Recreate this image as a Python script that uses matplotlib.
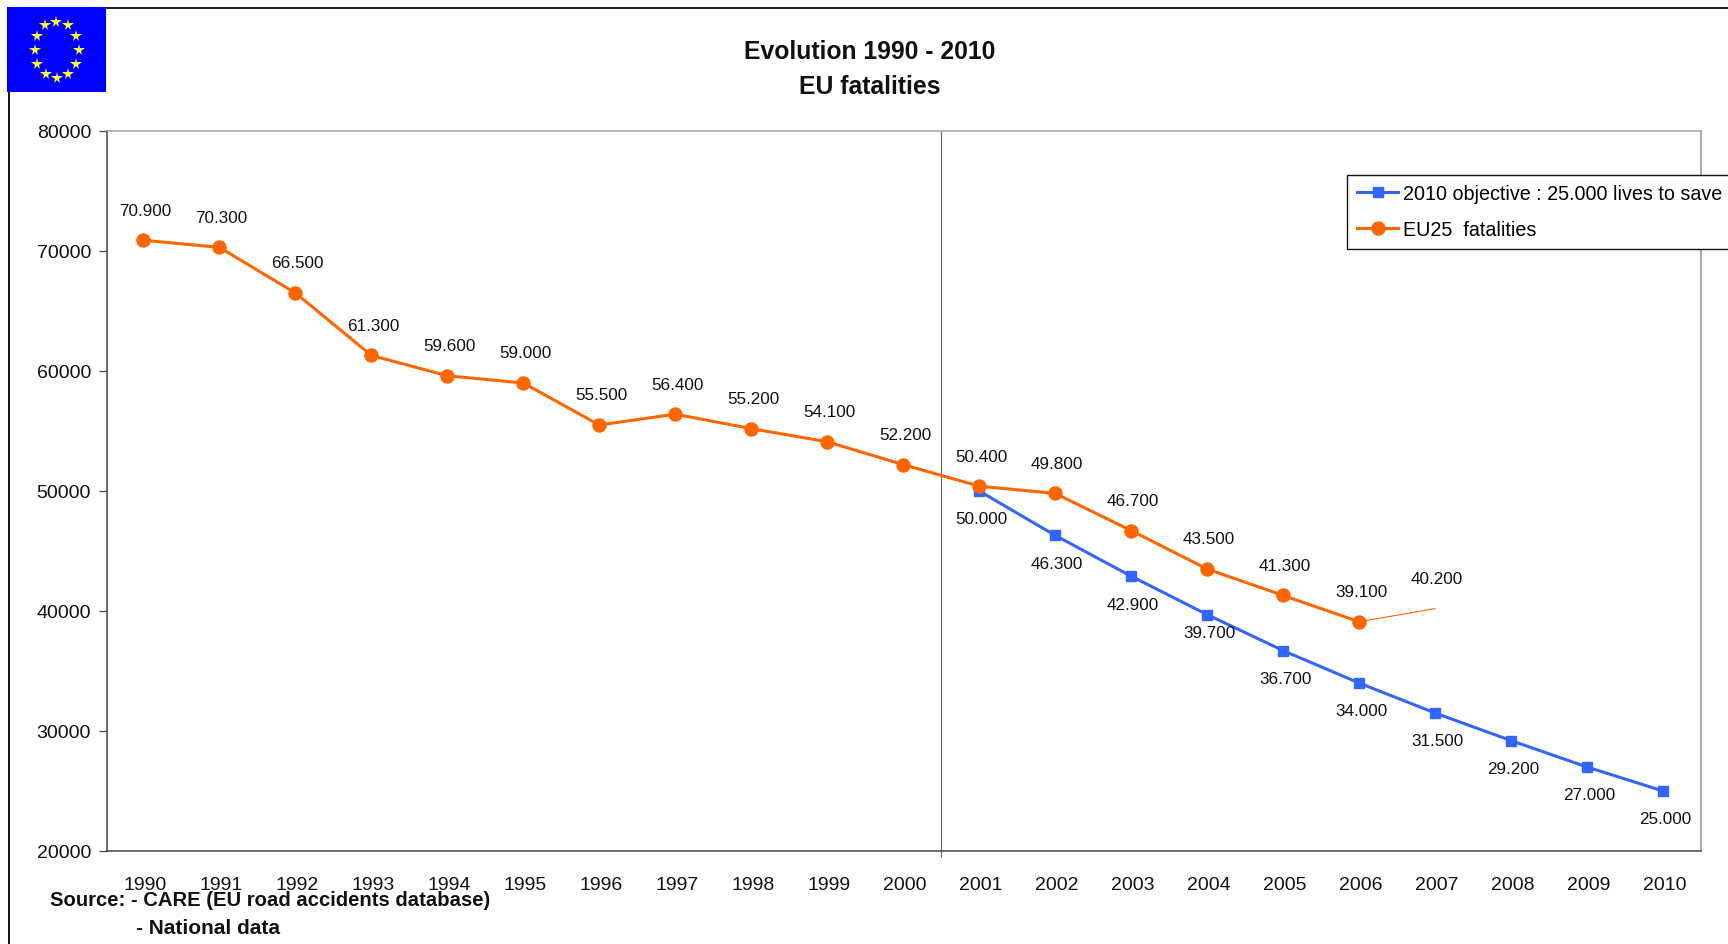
import numpy as np
import matplotlib
matplotlib.use('Agg')
import matplotlib.pyplot as plt
from matplotlib.lines import Line2D
from matplotlib.patches import Rectangle
from matplotlib.transforms import ScaledTranslation

plt.rcParams['font.family'] = ['Liberation Sans', 'DejaVu Sans']

years = list(range(1990, 2011))
eu25_years = list(range(1990, 2007))
eu25_fatalities = [70900, 70300, 66500, 61300, 59600, 59000, 55500, 56400, 55200,
                   54100, 52200, 50400, 49800, 46700, 43500, 41300, 39100]
# 2007 is only a thin line and a label, no marker
eu25_last_year = 2007
eu25_last_value = 40200
objective_years = list(range(2001, 2011))
objective_values = [50000, 46300, 42900, 39700, 36700, 34000, 31500, 29200, 27000, 25000]
y_ticks = [20000, 30000, 40000, 50000, 60000, 70000, 80000]

ORANGE = '#FF6600'
BLUE = '#3366FF'
W, H = 1728, 945


def fx(px):
    return px / W


def fy(px):
    return 1 - px / H


def label(x, y, value, dy):
    ax.annotate(f'{value:,}'.replace(',', '.'), (x, y), xytext=(2, dy),
                textcoords='offset pixels', ha='center', va='center',
                fontsize=12.3, color='#111111')


fig = plt.figure(figsize=(W / 100, H / 100), dpi=100)
ax = fig.add_axes([fx(107), fy(852), fx(1701 - 107), (852 - 132) / H])

pos = {y: i for i, y in enumerate(years)}
eu_x = [pos[y] for y in eu25_years]
obj_x = [pos[y] for y in objective_years]

ax.plot(obj_x, objective_values, color=BLUE, lw=2.2, marker='s', ms=7.4,
        label='2010 objective : 25.000 lives to save', zorder=3)
ax.plot(eu_x, eu25_fatalities, color=ORANGE, lw=2.2, marker='o', ms=9.4,
        label='EU25  fatalities', zorder=4)
ax.plot([eu_x[-1], pos[eu25_last_year]], [eu25_fatalities[-1], eu25_last_value],
        color=ORANGE, lw=0.8, zorder=2)

for x, v in zip(eu_x, eu25_fatalities):
    label(x, v, v, 30)
label(pos[eu25_last_year], eu25_last_value, eu25_last_value, 30)
for x, v in zip(obj_x, objective_values):
    # the 2004 label sits closer to its point in the original
    label(x, v, v, -18 if v == 39700 else -28)

# divider between 2000 and 2001, runs a little below the axis
ax.vlines([10.5], 19500, 80000, color='#666666', lw=0.8, clip_on=False, zorder=1)

ax.set_xlim(-0.48, 20.5)
ax.set_ylim(20000, 80000)
ax.set_yticks(y_ticks)
ax.set_xticks(range(len(years)))
ax.set_xticklabels(years)
ax.tick_params(axis='x', length=0, pad=17.8, labelsize=14, labelcolor='#111111')
# year labels sit slightly right of their points
nudge = ScaledTranslation(1.5 / 100, 0, fig.dpi_scale_trans)
for t in ax.get_xticklabels():
    t.set_transform(t.get_transform() + nudge)
ax.tick_params(axis='y', length=6, width=1, pad=5.5, labelsize=14, labelcolor='#111111',
               color='#555555')
for side, col in [('top', '#A0A0A0'), ('right', '#909090'), ('left', '#444444'), ('bottom', '#444444')]:
    ax.spines[side].set_color(col)
    ax.spines[side].set_linewidth(1.1)

leg = ax.legend(loc='upper left', bbox_to_anchor=(fx(1347), fy(175.5)), bbox_transform=fig.transFigure,
                fontsize=14.2, frameon=True, fancybox=False, framealpha=1, edgecolor='#111111',
                handlelength=2.1, handletextpad=0.22, labelspacing=0.84, borderpad=0.5,
                borderaxespad=0)
leg.get_frame().set_linewidth(1)
leg.set_zorder(6)

# outer chart-area frame, only left and top are visible
fig.add_artist(Line2D([fx(8.5), fx(8.5)], [fy(92), fy(945)], color='#111111', lw=1.4))
fig.add_artist(Line2D([fx(106), fx(1728)], [fy(9), fy(9)], color='#111111', lw=1.3))

# flag
fig.add_artist(Rectangle((fx(7), fy(93)), fx(99), 85 / H, transform=fig.transFigure,
                         facecolor='#0000FF', edgecolor='none', zorder=5))
angles = np.deg2rad(np.arange(0, 360, 30))
fig.add_artist(Line2D(fx(56.5 + 22 * np.cos(angles)), fy(50.5 + 28 * np.sin(angles)),
                      transform=fig.transFigure, ls='none', marker='*', ms=8.5,
                      mfc='#FFFF33', mec='#FFFF33', mew=0, zorder=6))

fig.text(fx(869.5), fy(52), 'Evolution 1990 - 2010', ha='center', va='center',
         fontsize=17.8, fontweight='bold', color='#111111')
fig.text(fx(869.5), fy(87), 'EU fatalities', ha='center', va='center',
         fontsize=17.8, fontweight='bold', color='#111111')
fig.text(fx(50.5), fy(900.5), 'Source: - CARE (EU road accidents database)', ha='left', va='center',
         fontsize=14.55, fontweight='bold', color='#111111', zorder=7)
fig.text(fx(136), fy(929), '- National data', ha='left', va='center',
         fontsize=15, fontweight='bold', color='#111111')

fig.savefig('out.png', dpi=100)
